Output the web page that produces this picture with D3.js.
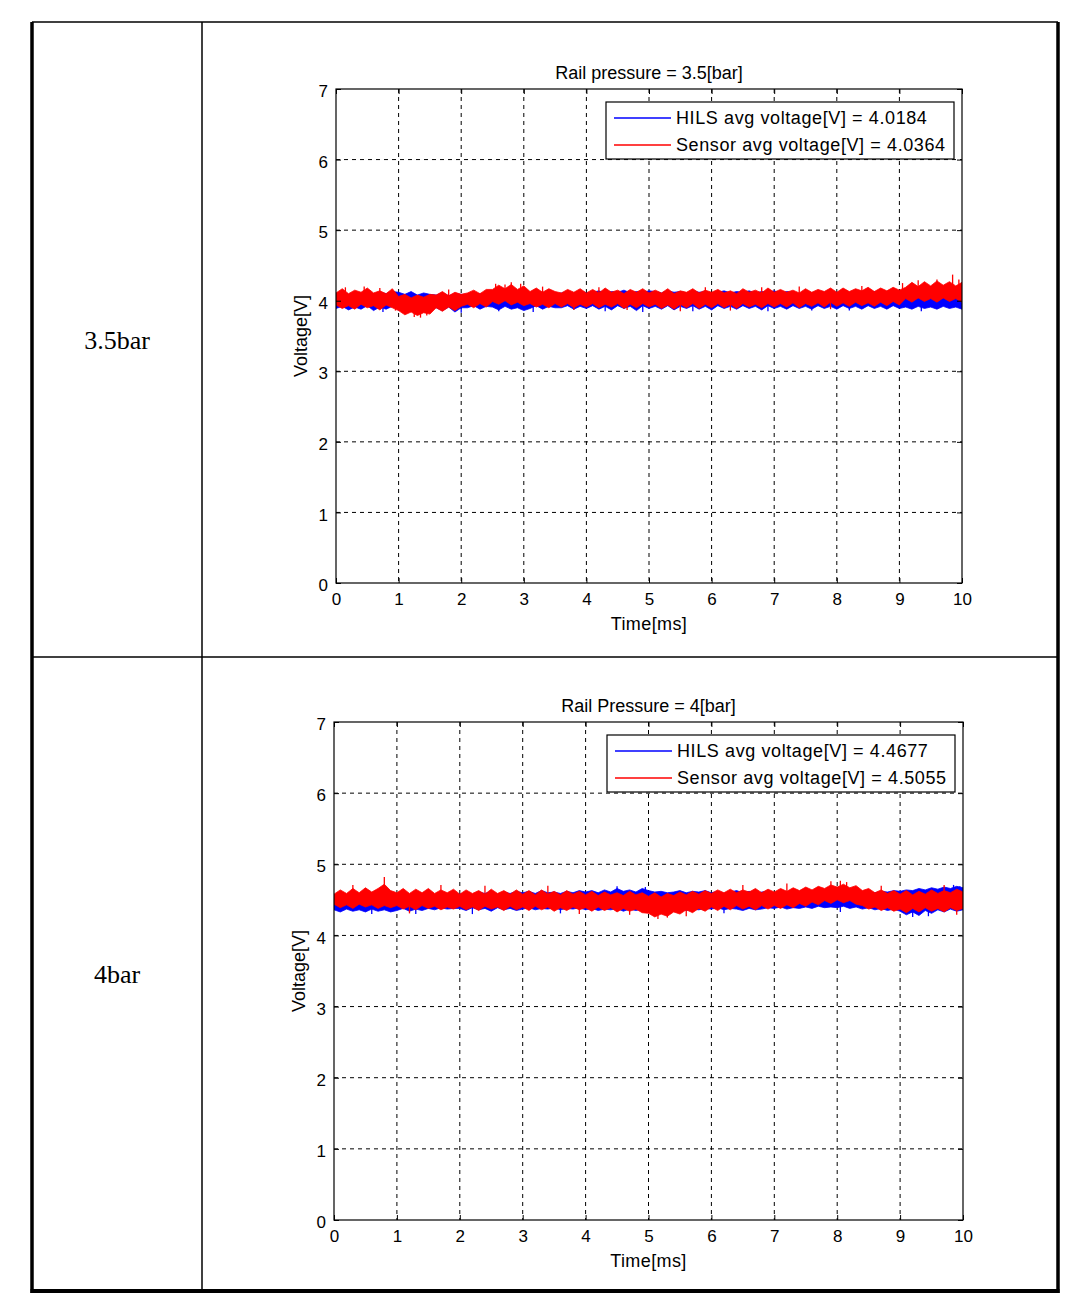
<!DOCTYPE html>
<html><head><meta charset="utf-8">
<script src="https://cdn.jsdelivr.net/npm/d3@7"></script>
<style>body{margin:0;background:#fff}svg{display:block}</style>
</head><body>
<svg id="c" width="1089" height="1305"></svg>
<script>
// ---------- DATA ----------
const rowLabels = ["3.5bar", "4bar"];
const titles = ["Rail pressure = 3.5[bar]", "Rail Pressure = 4[bar]"];
const legendHILS = ["HILS avg voltage[V] = 4.0184", "HILS avg voltage[V] = 4.4677"];
const legendSensor = ["Sensor avg voltage[V] = 4.0364", "Sensor avg voltage[V] = 4.5055"];
const xTicks = [0,1,2,3,4,5,6,7,8,9,10];
const yTicks = [0,1,2,3,4,5,6,7];
const xLabel = "Time[ms]";
const yLabel = "Voltage[V]";
// sample times of the envelopes (ms), 0.1 ms apart
const time = d3.range(0, 101).map(i => i / 10);

// Chart 1 (3.5 bar) envelopes [V]
const sensorHi1 = [4.11,4.17,4.10,4.15,4.12,4.18,4.11,4.14,4.10,4.17, 4.06,4.09,4.04,4.08,4.05,4.09, 4.08,4.13,4.07,4.12,4.09, 4.11,4.15,4.10,4.16, 4.16,4.22,4.17,4.23,4.16,4.21, 4.13,4.18,4.12,4.17,4.13, 4.11,4.16,4.12,4.17,4.11,
  4.16,4.11,4.18,4.12,4.15,4.10,4.16,4.12,4.17,4.11, 4.15,4.11,4.17,4.10,4.14,4.12,4.17,4.11,4.15,4.12, 4.16,4.11,4.14,4.10,4.17,4.12,4.15,4.11,4.18,4.12,
  4.16,4.12,4.15,4.11,4.17,4.12,4.16,4.13,4.18,4.12, 4.18,4.13,4.17,4.14,4.19,4.13,4.18,4.14,4.19,4.15, 4.19,4.26,4.20,4.27,4.21,4.28,4.22,4.27,4.21,4.26];
const sensorLo1 = [3.94,3.89,3.93,3.88,3.95,3.90,3.93,3.87,3.94,3.90, 3.86,3.80,3.84,3.79,3.83,3.81, 3.90,3.85,3.91,3.86,3.92, 3.95,3.90,3.96,3.91, 3.99,3.95,4.00,3.94,3.98,3.93, 3.96,3.91,3.95,3.90,3.96, 3.91,3.96,3.90,3.95,3.91,
  3.96,3.90,3.95,3.91,3.96,3.89,3.95,3.90,3.96,3.91, 3.95,3.89,3.94,3.88,3.95,3.90,3.96,3.89,3.95,3.90, 3.96,3.90,3.95,3.89,3.96,3.91,3.95,3.90,3.96,3.91,
  3.96,3.91,3.97,3.90,3.96,3.92,3.97,3.91,3.98,3.92, 3.97,3.92,3.98,3.93,3.97,3.92,3.98,3.93,3.99,3.94, 4.03,3.98,4.04,3.99,4.03,3.98,4.04,3.99,4.03,3.98];
const hilsHi1 = [4.10,4.13,4.09,4.12,4.10,4.14,4.09,4.12,4.10,4.13, 4.12,4.09,4.13,4.08,4.11,4.09, 4.08,4.11,4.07,4.10,4.09, 4.09,4.07,4.10,4.08, 4.07,4.05,4.08,4.06,4.07,4.05, 4.09,4.11,4.08,4.12,4.09, 4.11,4.13,4.10,4.14,4.11,
  4.12,4.14,4.11,4.13,4.12,4.15,4.11,4.13,4.12,4.14, 4.13,4.11,4.14,4.12,4.13,4.11,4.14,4.12,4.13,4.11, 4.12,4.14,4.11,4.13,4.12,4.14,4.11,4.13,4.12,4.14,
  4.11,4.13,4.12,4.10,4.12,4.11,4.13,4.12,4.11,4.12, 4.11,4.12,4.10,4.12,4.11,4.13,4.12,4.10,4.11,4.10, 4.05,4.03,4.06,4.04,4.05,4.03,4.06,4.04,4.05,4.03];
const hilsLo1 = [3.89,3.92,3.87,3.91,3.88,3.93,3.86,3.91,3.88,3.92, 3.93,3.95,3.92,3.95,3.93,3.94, 3.90,3.86,3.91,3.84,3.90, 3.90,3.93,3.88,3.92, 3.91,3.87,3.92,3.88,3.90,3.86, 3.89,3.93,3.88,3.92,3.90, 3.90,3.93,3.88,3.92,3.89,
  3.93,3.88,3.92,3.87,3.93,3.89,3.92,3.86,3.93,3.89, 3.92,3.88,3.93,3.87,3.92,3.89,3.93,3.88,3.92,3.87, 3.93,3.89,3.92,3.88,3.93,3.89,3.92,3.87,3.93,3.89,
  3.92,3.88,3.93,3.89,3.92,3.88,3.93,3.89,3.92,3.88, 3.93,3.89,3.92,3.88,3.93,3.89,3.92,3.88,3.93,3.89, 3.91,3.88,3.92,3.89,3.91,3.88,3.92,3.89,3.91,3.88];
const sensorSpikes1 = [[0.15,4.19],[0.45,4.20],[0.7,4.18],[0.95,3.86],[1.25,3.77],[1.35,3.76],[1.45,3.79],[1.8,4.16],[2.55,4.24],[2.7,4.23],[2.8,4.26],[2.95,4.24],[3.3,4.20],[3.8,3.87],[4.2,4.19],[4.65,3.87],[5.5,3.85],[5.9,4.19],[6.3,3.86],[6.8,4.19],[7.4,4.20],[7.9,3.88],[8.4,4.21],[9.05,4.25],[9.3,4.29],[9.6,4.30],[9.85,4.37],[9.95,4.30]];
const hilsSpikes1 = [[0.75,3.84],[1.0,3.86],[2.0,3.83],[2.6,3.85],[3.15,3.84],[4.3,3.85],[4.9,3.84],[5.7,3.85],[6.9,3.85],[7.6,3.86],[8.2,3.86],[9.35,3.85]];

// Chart 2 (4 bar) envelopes [V]
const sensorHi2 = [4.58,4.64,4.59,4.66,4.60,4.67,4.61,4.66,4.72,4.63, 4.60,4.66,4.59,4.65,4.60,4.66,4.59,4.64,4.60,4.65,
  4.58,4.64,4.59,4.63,4.58,4.65,4.59,4.63,4.58,4.64, 4.58,4.63,4.57,4.64,4.58,4.62,4.57,4.63,4.58,4.62,
  4.57,4.62,4.56,4.61,4.57,4.60,4.56,4.62,4.57,4.60, 4.55,4.60,4.54,4.59,4.56,4.61,4.57,4.62,4.58,4.63,
  4.59,4.64,4.60,4.65,4.60,4.64,4.61,4.66,4.60,4.65, 4.61,4.66,4.62,4.67,4.63,4.68,4.64,4.69,4.66,4.71,
  4.68,4.72,4.67,4.70,4.63,4.66,4.60,4.64,4.59,4.63, 4.58,4.63,4.57,4.62,4.58,4.64,4.59,4.63,4.60,4.65,4.61];
const sensorLo2 = [4.44,4.39,4.43,4.38,4.44,4.40,4.43,4.38,4.42,4.39, 4.42,4.37,4.41,4.36,4.42,4.38,4.41,4.36,4.40,4.37,
  4.41,4.36,4.40,4.35,4.41,4.37,4.40,4.35,4.41,4.36, 4.40,4.35,4.41,4.36,4.40,4.34,4.39,4.35,4.40,4.36,
  4.39,4.34,4.40,4.35,4.39,4.33,4.38,4.34,4.37,4.32, 4.31,4.26,4.30,4.27,4.33,4.30,4.36,4.32,4.38,4.34,
  4.40,4.35,4.41,4.36,4.42,4.37,4.41,4.36,4.42,4.37, 4.42,4.38,4.43,4.39,4.45,4.41,4.47,4.43,4.49,4.45,
  4.50,4.46,4.49,4.44,4.42,4.37,4.40,4.35,4.39,4.34, 4.37,4.32,4.38,4.33,4.39,4.34,4.38,4.33,4.39,4.35,4.38];
const hilsHi2 = [4.52,4.49,4.53,4.50,4.52,4.49,4.53,4.50,4.52,4.49, 4.54,4.56,4.53,4.57,4.55,4.58,4.54,4.57,4.56,4.59,
  4.58,4.60,4.57,4.61,4.59,4.62,4.58,4.61,4.59,4.62, 4.60,4.62,4.59,4.63,4.60,4.61,4.59,4.62,4.60,4.63,
  4.61,4.63,4.60,4.64,4.61,4.66,4.62,4.64,4.61,4.66, 4.63,4.61,4.62,4.60,4.61,4.63,4.60,4.62,4.61,4.63,
  4.60,4.62,4.59,4.61,4.63,4.60,4.62,4.59,4.61,4.62, 4.59,4.61,4.58,4.60,4.57,4.59,4.56,4.58,4.55,4.57,
  4.55,4.53,4.56,4.54,4.57,4.59,4.60,4.62,4.61,4.63, 4.62,4.64,4.63,4.66,4.64,4.67,4.65,4.68,4.66,4.69,4.67];
const hilsLo2 = [4.36,4.33,4.37,4.34,4.36,4.33,4.37,4.34,4.36,4.33, 4.35,4.38,4.34,4.37,4.35,4.38,4.36,4.39,4.37,4.38,
  4.38,4.35,4.39,4.36,4.38,4.34,4.39,4.36,4.38,4.35, 4.37,4.39,4.36,4.38,4.37,4.39,4.36,4.38,4.37,4.39,
  4.36,4.38,4.35,4.37,4.36,4.38,4.34,4.37,4.35,4.37, 4.36,4.38,4.35,4.37,4.36,4.38,4.35,4.37,4.36,4.38,
  4.37,4.39,4.36,4.38,4.37,4.35,4.38,4.36,4.37,4.39, 4.38,4.40,4.37,4.39,4.38,4.40,4.38,4.41,4.39,4.40,
  4.39,4.41,4.38,4.40,4.37,4.39,4.36,4.38,4.35,4.37, 4.34,4.29,4.33,4.28,4.35,4.31,4.36,4.33,4.37,4.34,4.36];
const sensorSpikes2 = [[0.3,4.71],[0.8,4.82],[1.2,4.31],[1.7,4.71],[2.4,4.70],[3.4,4.70],[3.9,4.30],[4.7,4.29],[5.15,4.23],[5.3,4.25],[5.6,4.27],[6.5,4.71],[7.2,4.73],[7.9,4.76],[8.05,4.77],[8.15,4.75],[8.7,4.70],[9.7,4.71],[9.9,4.29]];
const hilsSpikes2 = [[0.6,4.30],[1.3,4.30],[2.2,4.30],[3.6,4.31],[4.5,4.69],[4.95,4.68],[6.2,4.31],[8.05,4.33],[9.2,4.26],[9.45,4.27],[9.85,4.71],[9.95,4.69]];

// ---------- LAYOUT ----------
const svg = d3.select("#c");
const sans = "'Liberation Sans', Arial, Helvetica, sans-serif";

// table
const T = {l: 32, r: 1058, t: 22, b: 1291, col: 202, row: 657};
const tbl = svg.append("g").attr("stroke", "#000").attr("fill", "none");
tbl.append("line").attr("x1", T.l).attr("x2", T.r).attr("y1", T.t).attr("y2", T.t).attr("stroke-width", 1.5);
tbl.append("line").attr("x1", T.l).attr("x2", T.r).attr("y1", T.row).attr("y2", T.row).attr("stroke-width", 1.5);
tbl.append("line").attr("x1", T.col).attr("x2", T.col).attr("y1", T.t).attr("y2", T.b).attr("stroke-width", 1.5);
tbl.append("line").attr("x1", T.l).attr("x2", T.l).attr("y1", T.t).attr("y2", T.b + 2).attr("stroke-width", 3.5);
tbl.append("line").attr("x1", T.r).attr("x2", T.r).attr("y1", T.t).attr("y2", T.b + 2).attr("stroke-width", 3.5);
tbl.append("line").attr("x1", T.l - 1.5).attr("x2", T.r + 1.5).attr("y1", T.b).attr("y2", T.b).attr("stroke-width", 4);

const rowCenters = [343, 977];
rowLabels.forEach((s, i) => {
  svg.append("text").attr("x", (T.l + T.col) / 2).attr("y", rowCenters[i])
    .attr("text-anchor", "middle").attr("dominant-baseline", "middle")
    .attr("font-family", "'Liberation Serif', 'DejaVu Serif', serif").attr("font-size", 26)
    .text(s);
});

const charts = [
  {box: {l: 336, r: 962, t: 89, b: 583}, sHi: sensorHi1, sLo: sensorLo1, hHi: hilsHi1, hLo: hilsLo1, sSp: sensorSpikes1, hSp: hilsSpikes1},
  {box: {l: 334, r: 963, t: 722, b: 1220}, sHi: sensorHi2, sLo: sensorLo2, hHi: hilsHi2, hLo: hilsLo2, sSp: sensorSpikes2, hSp: hilsSpikes2}
];

charts.forEach((c, ci) => {
  const b = c.box;
  const x = d3.scaleLinear().domain([0, 10]).range([b.l, b.r]);
  const y = d3.scaleLinear().domain([0, 7]).range([b.b, b.t]);
  const g = svg.append("g");
  const clipId = "clip" + ci;
  svg.append("defs").append("clipPath").attr("id", clipId)
    .append("rect").attr("x", b.l).attr("y", b.t).attr("width", b.r - b.l).attr("height", b.b - b.t);

  // grid
  const grid = g.append("g").attr("stroke", "#000").attr("stroke-width", 1).attr("stroke-dasharray", "4,4");
  grid.selectAll("line.vx").data(xTicks.slice(1, -1)).join("line")
    .attr("x1", d => x(d)).attr("x2", d => x(d)).attr("y1", b.t).attr("y2", b.b);
  grid.selectAll("line.hy").data(yTicks.slice(1, -1)).join("line")
    .attr("y1", d => y(d)).attr("y2", d => y(d)).attr("x1", b.l).attr("x2", b.r);

  // signals
  const plot = g.append("g").attr("clip-path", `url(#${clipId})`);
  const area = (hi, lo) => d3.area().x((d, i) => x(time[i])).y0((d, i) => y(lo[i])).y1((d, i) => y(hi[i]))(hi);
  const mid = (hi, lo, t) => { const i = Math.round(t * 10); return (hi[i] + lo[i]) / 2; };
  plot.append("path").attr("d", area(c.hHi, c.hLo)).attr("fill", "#0000ff").attr("stroke", "#0000ff").attr("stroke-width", 0.8);
  plot.selectAll("line.hs").data(c.hSp).join("line").attr("class", "hs")
    .attr("x1", d => x(d[0])).attr("x2", d => x(d[0]))
    .attr("y1", d => y(mid(c.hHi, c.hLo, d[0]))).attr("y2", d => y(d[1]))
    .attr("stroke", "#0000ff").attr("stroke-width", 1.3);
  plot.append("path").attr("d", area(c.sHi, c.sLo)).attr("fill", "#ff0000").attr("stroke", "#ff0000").attr("stroke-width", 0.8);
  plot.selectAll("line.ss").data(c.sSp).join("line").attr("class", "ss")
    .attr("x1", d => x(d[0])).attr("x2", d => x(d[0]))
    .attr("y1", d => y(mid(c.sHi, c.sLo, d[0]))).attr("y2", d => y(d[1]))
    .attr("stroke", "#ff0000").attr("stroke-width", 1.3);

  // axes with inward ticks
  const fmt = d3.format("d");
  const ax = g.append("g").attr("transform", `translate(0,${b.b})`)
    .call(d3.axisBottom(x).tickValues(xTicks).tickFormat(fmt).tickSizeInner(-5).tickSizeOuter(0).tickPadding(10));
  const axT = g.append("g").attr("transform", `translate(0,${b.t})`)
    .call(d3.axisTop(x).tickValues(xTicks).tickFormat("").tickSizeInner(-5).tickSizeOuter(0));
  const ay = g.append("g").attr("transform", `translate(${b.l},0)`)
    .call(d3.axisLeft(y).tickValues(yTicks).tickFormat(fmt).tickSizeInner(-5).tickSizeOuter(0).tickPadding(8));
  const ayR = g.append("g").attr("transform", `translate(${b.r},0)`)
    .call(d3.axisRight(y).tickValues(yTicks).tickFormat("").tickSizeInner(-5).tickSizeOuter(0));
  [ax, axT, ay, ayR].forEach(a => {
    a.select(".domain").remove();
    a.selectAll("line").attr("stroke", "#000");
    a.selectAll("text").attr("font-family", sans).attr("font-size", 17).attr("fill", "#000");
  });
  ay.selectAll("text").attr("dy", "0.45em");
  g.append("rect").attr("x", b.l).attr("y", b.t).attr("width", b.r - b.l).attr("height", b.b - b.t)
    .attr("fill", "none").attr("stroke", "#000").attr("stroke-width", 1.2);

  // title and labels
  g.append("text").attr("x", (b.l + b.r) / 2).attr("y", b.t - 10).attr("text-anchor", "middle")
    .attr("font-family", sans).attr("font-size", 18).text(titles[ci]);
  g.append("text").attr("x", (b.l + b.r) / 2).attr("y", b.b + 47).attr("text-anchor", "middle")
    .attr("font-family", sans).attr("font-size", 18).attr("letter-spacing", 0.4).text(xLabel);
  g.append("text").attr("transform", `translate(${b.l - 29},${(b.t + b.b) / 2}) rotate(-90)`)
    .attr("text-anchor", "middle").attr("font-family", sans).attr("font-size", 18).text(yLabel);

  // legend
  const lw = 348, lh = 57;
  const lx = b.r - 8 - lw, ly = b.t + 13;
  const lg = g.append("g");
  lg.append("rect").attr("x", lx).attr("y", ly).attr("width", lw).attr("height", lh)
    .attr("fill", "#fff").attr("stroke", "#000").attr("stroke-width", 1.2);
  const items = [[legendHILS[ci], "#0000ff"], [legendSensor[ci], "#ff0000"]];
  items.forEach((it, k) => {
    const yy = ly + 16 + k * 27;
    lg.append("line").attr("x1", lx + 8).attr("x2", lx + 65).attr("y1", yy).attr("y2", yy)
      .attr("stroke", it[1]).attr("stroke-width", 1.5);
    lg.append("text").attr("x", lx + 70).attr("y", yy).attr("dy", "0.36em")
      .attr("font-family", sans).attr("font-size", 18).attr("letter-spacing", 0.6).text(it[0]);
  });
});
</script>
</body></html>
